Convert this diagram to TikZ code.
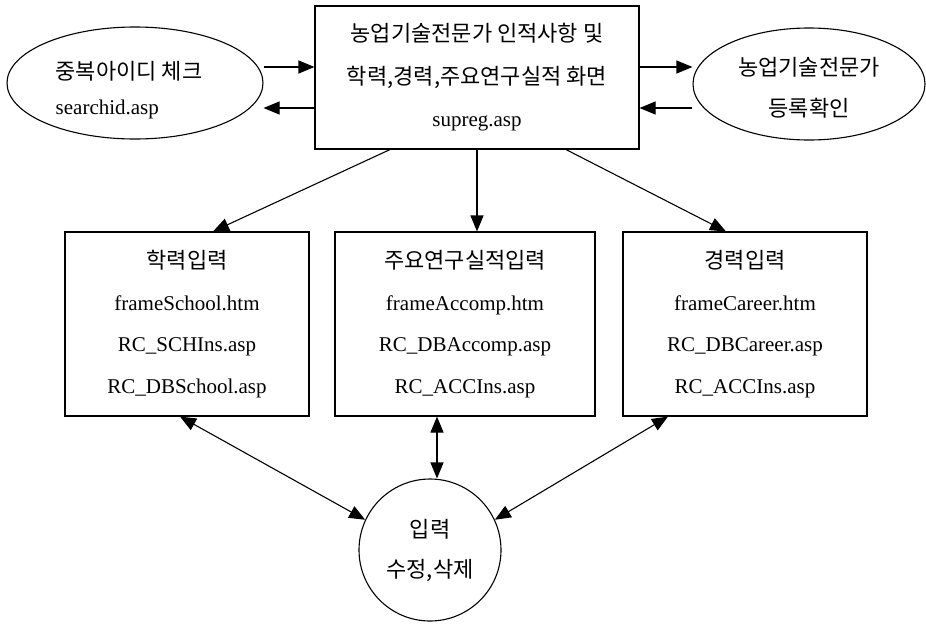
\documentclass[tikz,border=0pt]{standalone}
\usepackage{fontspec}
\setmainfont{Liberation Serif}
\newfontfamily\kr{Noto Sans CJK KR}
\newcommand{\kt}[1]{{\kr\fontsize{22}{26}\selectfont #1}}
\usetikzlibrary{arrows.meta,shapes.geometric}
\begin{document}
\begin{tikzpicture}[x=1pt,y=-1pt,
  every node/.style={inner sep=0pt, align=center},
  shp/.style={draw, line width=1.1pt},
  boxA/.style={shp, rectangle, font=\fontsize{21}{42.5}\selectfont},
  boxB/.style={shp, rectangle, minimum height=184pt, font=\fontsize{21}{41.7}\selectfont},
  ell/.style={shp, ellipse},
  arr/.style={line width=1.1pt, -{Triangle[length=16pt,width=13pt]}},
  darr/.style={line width=1.1pt, {Triangle[length=16pt,width=13pt]}-{Triangle[length=16pt,width=13pt]}}
]
\useasboundingbox (0,0) rectangle (926,624);
% top box
\node[boxA, minimum width=324pt, minimum height=143pt] (top) at (477,77.5)
  {\kt{농업기술전문가 인적사항 및}\\
   \kt{학력,경력,주요연구실적 화면}\\
   supreg.asp};
% ellipses
\node[ell, minimum width=256pt, minimum height=112pt] (le) at (135,83) {};
\node[align=left, font=\fontsize{21}{35}\selectfont] (let) at ([xshift=-6pt,yshift=-7pt]le.center)
  {\kt{중복아이디 체크}\\searchid.asp};
\node[ell, minimum width=232pt, minimum height=112pt] (re) at (809,84) {};
\node[font=\fontsize{21}{41}\selectfont] (ret) at ([yshift=-4pt]re.center)
  {\kt{농업기술전문가}\\\kt{등록확인}};
% lower boxes
\node[boxB, minimum width=244pt] (lb) at (187,324)
  {\kt{학력입력}\\frameSchool.htm\\RC\_SCHIns.asp\\RC\_DBSchool.asp};
\node[boxB, minimum width=260pt] (mb) at (465,324)
  {\kt{주요연구실적입력}\\frameAccomp.htm\\RC\_DBAccomp.asp\\RC\_ACCIns.asp};
\node[boxB, minimum width=244pt] (rb) at (745,324)
  {\kt{경력입력}\\frameCareer.htm\\RC\_DBCareer.asp\\RC\_ACCIns.asp};
% circle
\node[shp, circle, minimum size=142pt, font=\fontsize{21}{40}\selectfont] (ci) at (430,550)
  {\kt{입력}\\\kt{수정,삭제}};
% connectors top row
\draw[arr] ([yshift=16pt]le.east) -- ([yshift=16pt]le.east -| top.west);
\draw[arr] ([yshift=-30.5pt]top.west) -- ([yshift=-30.5pt]top.west -| le.east);
\draw[arr] ([yshift=10.5pt]top.east) -- ([yshift=10.5pt]top.east -| re.west);
\draw[arr] ([yshift=-24pt]re.west) -- ([yshift=-24pt]re.west -| top.east);
% top to lower boxes
\draw[arr] ([xshift=-87pt]top.south) -- ([xshift=26pt]lb.north);
\draw[arr] (top.south) -- (top.south |- mb.north);
\draw[arr] ([xshift=89pt]top.south) -- ([xshift=-19pt]rb.north);
% lower boxes to circle
\draw[darr] ([xshift=-7pt]lb.south) -- (ci.155);
\draw[darr] ([xshift=-28pt]mb.south) -- ([xshift=-28pt]mb.south |- ci.north);
\draw[darr] ([xshift=-77pt]rb.south) -- (ci.25);
\end{tikzpicture}
\end{document}
